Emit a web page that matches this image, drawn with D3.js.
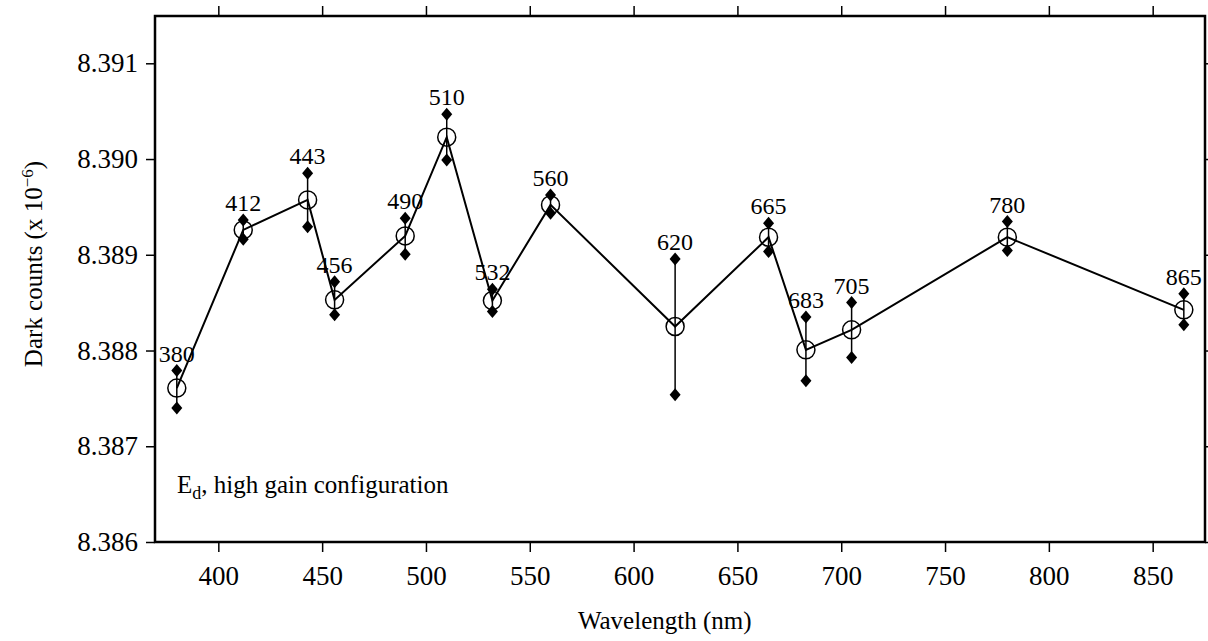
<!DOCTYPE html>
<html>
<head>
<meta charset="utf-8">
<script src="https://cdn.jsdelivr.net/npm/d3@7"></script>
<style>
  body { margin: 0; background: #fff; }
  svg { display: block; }
</style>
</head>
<body>
<div id="graph"></div>
<script>
// band centres (nm) and the dark counts
var wavelengths = [380, 412, 443, 456, 490, 510, 532, 560, 620, 665, 683, 705, 780, 865];
var meanCounts  = [8.387608, 8.389260, 8.389573, 8.388529, 8.389197, 8.390228, 8.388522,
                   8.389521, 8.388251, 8.389184, 8.388007, 8.388216, 8.389184, 8.388425];
var upperCounts = [8.387791, 8.389364, 8.389852, 8.388717, 8.389382, 8.390468, 8.388641,
                   8.389625, 8.388957, 8.389330, 8.388349, 8.388501, 8.389347, 8.388592];
var lowerCounts = [8.387399, 8.389163, 8.389294, 8.388373, 8.389006, 8.389991, 8.388407,
                   8.389434, 8.387538, 8.389033, 8.387684, 8.387927, 8.389044, 8.388268];
var xTicks = [400, 450, 500, 550, 600, 650, 700, 750, 800, 850];
var yTicks = [8.386, 8.387, 8.388, 8.389, 8.390, 8.391];

var FONT = "'Liberation Serif', 'DejaVu Serif', serif";

var W = 1208, H = 641;
var margin = {top: 16, right: 3, bottom: 99, left: 155};
var w = W - margin.left - margin.right,
    h = H - margin.top - margin.bottom;

var data = wavelengths.map(function(d, i) {
  return {wl: d, mean: meanCounts[i], hi: upperCounts[i], lo: lowerCounts[i]};
});

var svg = d3.select("#graph").append("svg")
  .attr("width", W)
  .attr("height", H)
  .attr("font-family", FONT);

var g = svg.append("g")
  .attr("transform", "translate(" + margin.left + "," + margin.top + ")");

var x = d3.scaleLinear().domain([369.5, 875.2]).range([0, w]);
var y = d3.scaleLinear().domain([8.386, 8.391494]).range([h, 0]);

// axes: ticks point outward on all four sides
function styleAxis(sel, labels) {
  sel.attr("font-family", FONT);
  sel.select(".domain").remove();
  sel.selectAll(".tick line").attr("stroke", "#000").attr("stroke-width", 1.5);
  sel.selectAll(".tick text")
    .attr("fill", "#000")
    .style("font-family", FONT)
    .style("font-size", labels ? "27px" : "0px");
}

g.append("g")
  .attr("transform", "translate(0," + h + ")")
  .call(d3.axisBottom(x).tickValues(xTicks).tickSize(10).tickPadding(14).tickFormat(d3.format("d")))
  .call(styleAxis, true);

g.append("g")
  .call(d3.axisTop(x).tickValues(xTicks).tickSize(10).tickFormat(""))
  .call(styleAxis, false);

g.append("g")
  .call(d3.axisLeft(y).tickValues(yTicks).tickSize(9).tickPadding(8).tickFormat(d3.format(".3f")))
  .call(styleAxis, true);

g.append("g")
  .attr("transform", "translate(" + w + ",0)")
  .call(d3.axisRight(y).tickValues(yTicks).tickSize(9).tickFormat(""))
  .call(styleAxis, false);

// frame
g.append("rect")
  .attr("width", w)
  .attr("height", h)
  .attr("fill", "none")
  .attr("stroke", "#000")
  .attr("stroke-width", 2.5);

// error bars
g.selectAll(".err")
  .data(data)
  .enter()
    .append("line")
    .attr("x1", function(d) { return x(d.wl); })
    .attr("x2", function(d) { return x(d.wl); })
    .attr("y1", function(d) { return y(d.lo); })
    .attr("y2", function(d) { return y(d.hi); })
    .attr("stroke", "#000")
    .attr("stroke-width", 1.5);

// connecting line through the means
var line = d3.line()
  .x(function(d) { return x(d.wl); })
  .y(function(d) { return y(d.mean); });

g.append("path")
  .datum(data)
  .attr("d", line)
  .attr("fill", "none")
  .attr("stroke", "#000")
  .attr("stroke-width", 2);

// diamonds at the bar ends
function diamond(cx, cy) {
  var a = 5.5, b = 6.5;
  return "M" + cx + "," + (cy - b) + "L" + (cx + a) + "," + cy +
         "L" + cx + "," + (cy + b) + "L" + (cx - a) + "," + cy + "Z";
}
var ends = [];
data.forEach(function(d) { ends.push({wl: d.wl, v: d.hi}); ends.push({wl: d.wl, v: d.lo}); });

g.selectAll(".dia")
  .data(ends)
  .enter()
    .append("path")
    .attr("d", function(d) { return diamond(x(d.wl), y(d.v)); })
    .attr("fill", "#000");

// open circles at the means
g.selectAll(".mean")
  .data(data)
  .enter()
    .append("circle")
    .attr("cx", function(d) { return x(d.wl); })
    .attr("cy", function(d) { return y(d.mean); })
    .attr("r", 9)
    .attr("fill", "none")
    .attr("stroke", "#000")
    .attr("stroke-width", 1.5);

// band labels
g.selectAll(".lbl")
  .data(data)
  .enter()
    .append("text")
    .attr("x", function(d) { return x(d.wl); })
    .attr("y", function(d) { return y(d.hi) - 9; })
    .attr("text-anchor", "middle")
    .style("font-family", FONT)
    .style("font-size", "24px")
    .text(function(d) { return d.wl; });

// annotation
var note = g.append("text")
  .attr("x", 22)
  .attr("y", 477)
  .style("font-family", FONT)
  .style("font-size", "25px");
note.append("tspan").text("E");
note.append("tspan").attr("dy", 6).style("font-size", "18px").text("d");
note.append("tspan").attr("dy", -6).text(", high gain configuration");

// axis titles
svg.append("text")
  .attr("x", margin.left + x(615))
  .attr("y", 629)
  .attr("text-anchor", "middle")
  .style("font-family", FONT)
  .style("font-size", "25px")
  .text("Wavelength (nm)");

var yl = svg.append("text")
  .attr("transform", "translate(42,264) rotate(-90)")
  .attr("text-anchor", "middle")
  .style("font-family", FONT)
  .style("font-size", "25px");
yl.append("tspan").text("Dark counts (x 10");
yl.append("tspan").attr("dy", -9).style("font-size", "17px").text("\u22126");
yl.append("tspan").attr("dy", 9).text(")");
</script>
</body>
</html>
